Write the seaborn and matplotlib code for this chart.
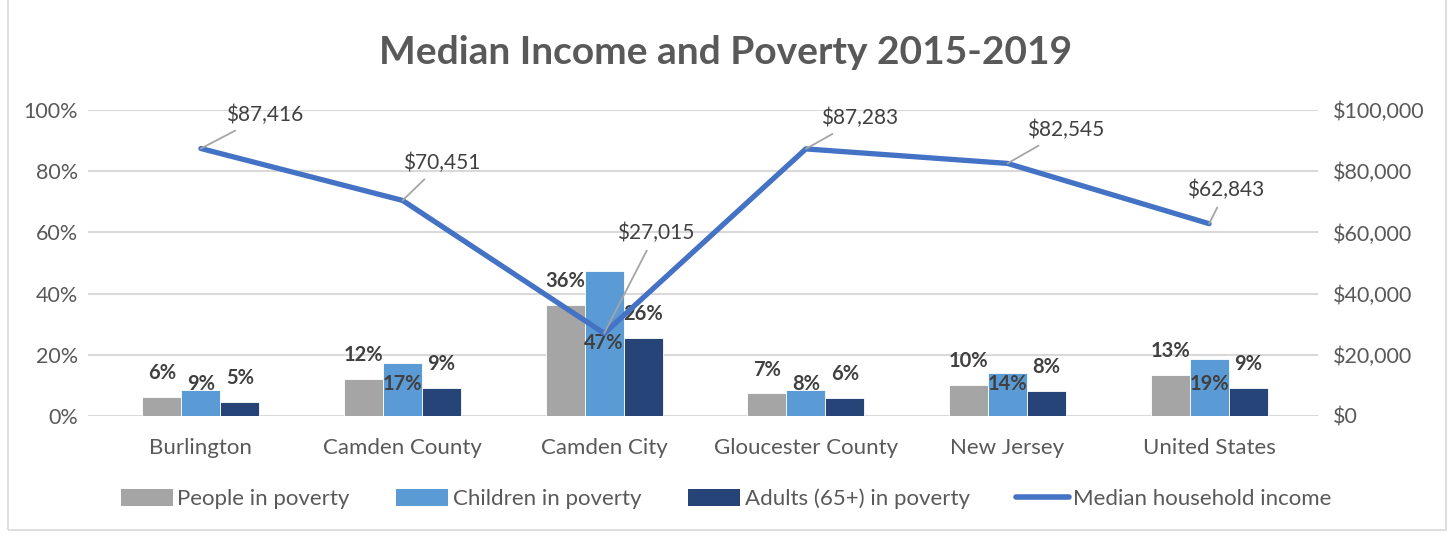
import matplotlib
matplotlib.use("Agg")
import matplotlib.pyplot as plt
import matplotlib.patches as mpatches
from matplotlib.lines import Line2D
from matplotlib.ticker import FuncFormatter, MultipleLocator
import seaborn as sns
import pandas as pd

categories = ["Burlington", "Camden County", "Camden City", "Gloucester County", "New Jersey", "United States"]
people_poverty = [0.062, 0.121, 0.363, 0.074, 0.101, 0.134]
children_poverty = [0.086, 0.173, 0.474, 0.084, 0.140, 0.186]
adults_poverty = [0.046, 0.092, 0.255, 0.060, 0.083, 0.092]
median_income = [87416, 70451, 27015, 87283, 82545, 62843]
series_names = ["People in poverty", "Children in poverty", "Adults (65+) in poverty"]
line_name = "Median household income"
title = "Median Income and Poverty 2015-2019"

# styles / label placements (points)
bar_colors = ["#A5A5A5", "#5B9BD5", "#264478"]
line_color = "#4472C4"
income_label_offsets = [(46, 24), (28, 27), (37, 72), (39, 22), (42, 24), (12, 24)]

sns.set_theme(style="white")
plt.rcParams["font.family"] = ["Lato", "DejaVu Sans"]

df = pd.DataFrame({
    "category": categories * 3,
    "series": sum([[s] * len(categories) for s in series_names], []),
    "value": people_poverty + children_poverty + adults_poverty,
})

W, H = 1452, 536
fig = plt.figure(figsize=(W / 100, H / 100), dpi=100)
ax = fig.add_axes([88 / W, 1 - 416 / H, (1318 - 88) / W, (416 - 110) / H])

sns.barplot(data=df, x="category", y="value", hue="series", order=categories,
            hue_order=series_names, palette=bar_colors, saturation=1, width=0.58, gap=0,
            edgecolor="white", linewidth=0.6, ax=ax, legend=False, zorder=2)

ax.set_ylim(0, 1.0)
ax.set_xlim(-0.56, 5.54)
ax.yaxis.set_major_locator(MultipleLocator(0.2))
ax.yaxis.set_major_formatter(FuncFormatter(lambda v, p: f"{v*100:.0f}%"))
ax.grid(axis="y", color="#D9D9D9", linewidth=1.5, zorder=0)
ax.set_axisbelow(True)
for s in ax.spines.values():
    s.set_visible(False)
ax.set_xlabel("")
ax.set_ylabel("")
ax.tick_params(axis="y", labelsize=15.5, labelcolor="#595959", length=0, pad=7)
ax.tick_params(axis="x", labelsize=16, labelcolor="#595959", length=0, pad=16)

# bar labels
for i, cont in enumerate(ax.containers):
    for bar in cont:
        v = bar.get_height()
        xc = bar.get_x() + bar.get_width() / 2
        if i == 1:
            ax.annotate(f"{v*100:.0f}%", (xc, max(v / 2, 0.105)), ha="center", va="center",
                        fontsize=14.5, fontweight="bold", color="#404040", zorder=5)
        else:
            ax.annotate(f"{v*100:.0f}%", (xc, v), xytext=(0, 17), textcoords="offset points",
                        ha="center", va="center", fontsize=14.5, fontweight="bold",
                        color="#404040", zorder=5)

ax2 = ax.twinx()
sns.lineplot(x=categories, y=median_income, sort=False, color=line_color, linewidth=3.8,
             ax=ax2, solid_capstyle="round", solid_joinstyle="round")
ax2.set_ylim(0, 100000)
ax2.set_xlim(-0.56, 5.54)
ax2.yaxis.set_major_locator(MultipleLocator(20000))
ax2.yaxis.set_major_formatter(FuncFormatter(lambda v, p: f"${v:,.0f}"))
for s in ax2.spines.values():
    s.set_visible(False)
ax2.set_ylabel("")
ax2.tick_params(axis="y", labelsize=15.5, labelcolor="#595959", length=0, pad=11)
ax2.grid(False)

for i, v in enumerate(median_income):
    ax2.annotate(f"${v:,.0f}", (i, v), xytext=income_label_offsets[i], textcoords="offset points",
                 ha="center", va="center", fontsize=15, color="#404040",
                 arrowprops=dict(arrowstyle="-", color="#A5A5A5", lw=1.3, shrinkA=3, shrinkB=0))

fig.text(0.5, 1 - 52 / H, title, ha="center", va="center", fontsize=28,
         fontweight="bold", color="#595959")

handles = [mpatches.Patch(facecolor=c, edgecolor="none") for c in bar_colors]
handles.append(Line2D([0], [0], color=line_color, lw=4, solid_capstyle="round"))
leg = fig.legend(handles, series_names + [line_name], loc="center", ncol=4,
                 bbox_to_anchor=(0.5, 1 - 499 / H), frameon=False, fontsize=16,
                 handlelength=2.35, handleheight=0.8, handletextpad=0.2, columnspacing=2.1)
for t in leg.get_texts():
    t.set_color("#595959")

fig.patches.append(mpatches.Rectangle((8 / W, 6 / H), (1446 - 8) / W, 1.1, transform=fig.transFigure,
                                      fill=False, edgecolor="#D9D9D9", linewidth=1.2))

fig.savefig("out.png", dpi=100)
